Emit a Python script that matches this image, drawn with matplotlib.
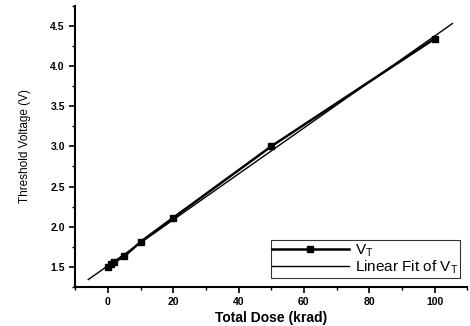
import numpy as np
import matplotlib.pyplot as plt
from matplotlib.ticker import MultipleLocator

plt.rcParams['font.family'] = ['Liberation Sans', 'DejaVu Sans']

dose = np.array([0, 1, 2, 5, 10, 20, 50, 100])
vt = np.array([1.50, 1.53, 1.56, 1.63, 1.81, 2.11, 3.00, 4.34])

# linear fit of the measured points
k, b = np.polyfit(dose, vt, 1)
xf = np.linspace(-6, 105.5, 50)

fig = plt.figure(figsize=(4.7, 3.26), dpi=100)
ax = fig.add_axes([0.16, 0.12, 0.834, 0.862])

ax.plot(dose, vt, color='black', lw=1.8, marker='s', ms=4, label='V$_\\mathregular{T}$')
ax.plot(xf, k * xf + b, color='black', lw=1.0, label='Linear Fit of V$_\\mathregular{T}$')

ax.set_xlim(-10, 110)
ax.set_ylim(1.25, 4.75)
ax.xaxis.set_major_locator(MultipleLocator(20))
ax.xaxis.set_minor_locator(MultipleLocator(10))
ax.yaxis.set_major_locator(MultipleLocator(0.5))
ax.yaxis.set_minor_locator(MultipleLocator(0.25))

for s in ('top', 'right'):
    ax.spines[s].set_visible(False)
for s in ('left', 'bottom'):
    ax.spines[s].set_linewidth(1.5)

ax.tick_params(which='major', length=4, width=1.2, labelsize=7.5)
ax.tick_params(which='minor', length=2.5, width=1)
for t in ax.get_xticklabels() + ax.get_yticklabels():
    t.set_fontweight('bold')

ax.set_xlabel('Total Dose (krad)', fontsize=10, fontweight='bold', labelpad=3)
ax.set_ylabel('Threshold Voltage (V)', fontsize=8.5, labelpad=14)

leg = ax.legend(loc='lower right', prop={'size': 11}, frameon=True,
                fancybox=False, edgecolor='black', handlelength=5.0, borderpad=0.1,
                labelspacing=0.0, handletextpad=0.4, bbox_to_anchor=(1.0, 0.005))
leg.get_frame().set_linewidth(0.8)

fig.savefig('out.png', dpi=100)
